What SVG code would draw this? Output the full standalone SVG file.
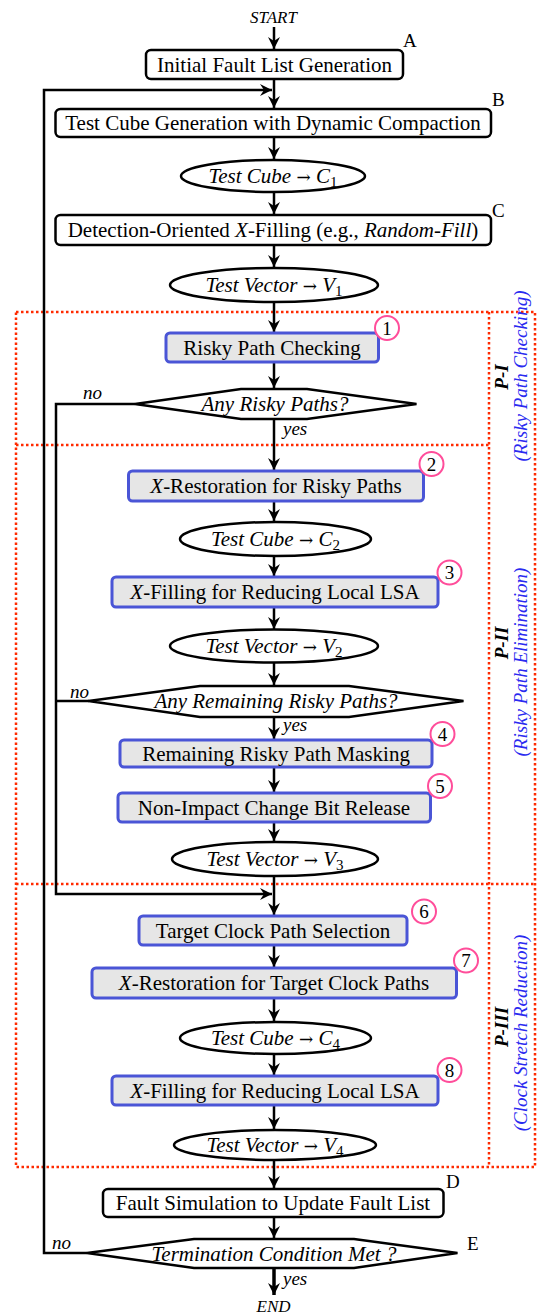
<svg xmlns="http://www.w3.org/2000/svg" width="542" height="1315" viewBox="0 0 542 1315" font-family="'Liberation Serif', 'DejaVu Serif', serif">
<defs>
<marker id="ah" markerUnits="userSpaceOnUse" markerWidth="14" markerHeight="14" viewBox="0 0 14 14" refX="13" refY="7" orient="auto">
<path d="M1,1 L13,7 L1,13 L5,7 Z" fill="#000"/>
</marker>
<style>
text{font-family:'Liberation Serif','DejaVu Serif',serif;fill:#000}
.t{font-size:21px;text-anchor:middle}
.i{font-style:italic}
.arw{font-family:'DejaVu Serif',serif;font-style:normal;font-size:17px}
.bb{fill:#fff;stroke:#000;stroke-width:2.5}
.gb{fill:#e6e6e6;stroke:#4a55d6;stroke-width:3}
.el{fill:#fff;stroke:#000;stroke-width:2.5}
.dm{fill:#fff;stroke:#000;stroke-width:2.5;stroke-linejoin:miter}
.cn{fill:none;stroke:#000;stroke-width:2.5}
.ar{marker-end:url(#ah)}
.num{fill:#fff;stroke:#ff4d9a;stroke-width:2}
.nt{font-size:19px;text-anchor:middle}
.lb{font-size:19px}
.sm{font-size:17px}
.red{fill:none;stroke:#ff2a00;stroke-width:2.5;stroke-dasharray:2.5 2.5}
.pl{font-size:19px;font-weight:bold;font-style:italic;text-anchor:middle}
.pb{font-size:19px;font-style:italic;text-anchor:middle;fill:#2a2af0}
</style>
</defs>

<g id="phases">
<rect class="red" x="16" y="312" width="519" height="855"/>
<line class="red" x1="489" y1="312" x2="489" y2="1167"/>
<line class="red" x1="16" y1="445" x2="489" y2="445"/>
<line class="red" x1="16" y1="884" x2="535" y2="884"/>
<text class="pl" transform="translate(508,377) rotate(-90)">P-I</text>
<text class="pb" transform="translate(527,376) rotate(-90)">(Risky Path Checking)</text>
<text class="pl" transform="translate(508,643) rotate(-90)">P-II</text>
<text class="pb" transform="translate(527,662) rotate(-90)">(Risky Path Elimination)</text>
<text class="pl" transform="translate(508,1027) rotate(-90)">P-III</text>
<text class="pb" transform="translate(527,1033) rotate(-90)">(Clock Stretch Reduction)</text>
</g>

<g id="connectors">
<line class="cn ar" x1="274" y1="27" x2="274" y2="49"/>
<line class="cn ar" x1="274" y1="79" x2="274" y2="108"/>
<polyline class="cn ar" points="87,1253 44,1253 44,90 272,90"/>
<line class="cn ar" x1="274" y1="137" x2="274" y2="159"/>
<line class="cn ar" x1="274" y1="192" x2="274" y2="214"/>
<line class="cn ar" x1="274" y1="245" x2="274" y2="267"/>
<line class="cn ar" x1="274" y1="302" x2="274" y2="332"/>
<line class="cn ar" x1="274" y1="362" x2="274" y2="388"/>
<line class="cn ar" x1="274" y1="419" x2="274" y2="470"/>
<polyline class="cn ar" points="135,404 56,404 56,894 272,894"/>
<line class="cn ar" x1="274" y1="501" x2="274" y2="521"/>
<line class="cn ar" x1="274" y1="556" x2="274" y2="576"/>
<line class="cn ar" x1="274" y1="607" x2="274" y2="629"/>
<line class="cn ar" x1="274" y1="663" x2="274" y2="685"/>
<line class="cn" x1="89" y1="701" x2="56" y2="701"/>
<line class="cn ar" x1="274" y1="717" x2="274" y2="739"/>
<line class="cn ar" x1="274" y1="767" x2="274" y2="792"/>
<line class="cn ar" x1="274" y1="822" x2="274" y2="841"/>
<line class="cn ar" x1="274" y1="876" x2="274" y2="915"/>
<line class="cn ar" x1="274" y1="945" x2="274" y2="967"/>
<line class="cn ar" x1="274" y1="998" x2="274" y2="1021"/>
<line class="cn ar" x1="274" y1="1054" x2="274" y2="1075"/>
<line class="cn ar" x1="274" y1="1105" x2="274" y2="1129"/>
<line class="cn ar" x1="274" y1="1160" x2="274" y2="1188"/>
<line class="cn ar" x1="274" y1="1217" x2="274" y2="1238"/>
<line class="cn ar" x1="274" y1="1268" x2="274" y2="1295" style="stroke-width:3.5"/>
<text class="lb i" x="83" y="399">no</text>
<text class="lb i" x="283" y="435">yes</text>
<text class="lb i" x="70" y="698">no</text>
<text class="lb i" x="283" y="731">yes</text>
<text class="lb i" x="52" y="1249">no</text>
<text class="lb i" x="283" y="1285">yes</text>
</g>

<g id="start"><text class="sm i" x="273.5" y="22.5" text-anchor="middle">START</text></g>
<g id="end"><text class="sm i" x="273.5" y="1312" text-anchor="middle">END</text></g>

<g id="nodeA">
<rect class="bb" x="146" y="50" width="257" height="29" rx="5"/>
<text class="t" x="274.5" y="71.5">Initial Fault List Generation</text>
<text class="lb" x="403" y="47">A</text>
</g>

<g id="nodeB">
<rect class="bb" x="55.5" y="109" width="435.5" height="28" rx="5"/>
<text class="t" x="273" y="130">Test Cube Generation with Dynamic Compaction</text>
<text class="lb" x="492" y="106">B</text>
</g>

<g id="c1">
<ellipse class="el" cx="273" cy="176" rx="92" ry="16"/>
<text class="t i" x="273" y="183">Test Cube <tspan class="arw">→</tspan> C<tspan font-style="normal" font-size="15" dy="4">1</tspan></text>
</g>

<g id="nodeC">
<rect class="bb" x="55.5" y="215" width="435.5" height="30" rx="5"/>
<text class="t" x="273" y="237">Detection-Oriented <tspan class="i">X</tspan>-Filling (e.g., <tspan class="i">Random-Fill</tspan>)</text>
<text class="lb" x="492" y="217">C</text>
</g>

<g id="v1">
<ellipse class="el" cx="274" cy="285" rx="104" ry="17"/>
<text class="t i" x="274" y="292">Test Vector <tspan class="arw">→</tspan> V<tspan font-style="normal" font-size="15" dy="4">1</tspan></text>
</g>

<g id="step1">
<rect class="gb" x="166" y="333" width="212.5" height="29" rx="4"/>
<text class="t" x="272" y="354.5">Risky Path Checking</text>
<circle class="num" cx="387" cy="328" r="12"/>
<text class="nt" x="387" y="334.5">1</text>
</g>

<g id="dec1">
<path class="dm" d="M135,404 L241,389 L307,389 L416.5,404 L307,419 L241,419 Z"/>
<text class="t i" x="275" y="411">Any Risky Paths?</text>
</g>

<g id="step2">
<rect class="gb" x="128.5" y="471" width="295" height="30" rx="4"/>
<text class="t" x="276" y="492.5"><tspan class="i">X</tspan>-Restoration for Risky Paths</text>
<circle class="num" cx="431.5" cy="464" r="12"/>
<text class="nt" x="431.5" y="470.5">2</text>
</g>

<g id="c2">
<ellipse class="el" cx="275.5" cy="539" rx="95.5" ry="17"/>
<text class="t i" x="275.5" y="546">Test Cube <tspan class="arw">→</tspan> C<tspan font-style="normal" font-size="15" dy="4">2</tspan></text>
</g>

<g id="step3">
<rect class="gb" x="112" y="577" width="326" height="30" rx="4"/>
<text class="t" x="275" y="598.5"><tspan class="i">X</tspan>-Filling for Reducing Local LSA</text>
<circle class="num" cx="449.5" cy="572.5" r="12"/>
<text class="nt" x="449.5" y="579">3</text>
</g>

<g id="v2">
<ellipse class="el" cx="274" cy="646" rx="104" ry="16.5"/>
<text class="t i" x="274" y="653">Test Vector <tspan class="arw">→</tspan> V<tspan font-style="normal" font-size="15" dy="4">2</tspan></text>
</g>

<g id="dec2">
<path class="dm" d="M88.5,701 L200,686 L349,686 L463.5,701 L349,717 L200,717 Z"/>
<text class="t i" x="276" y="708">Any Remaining Risky Paths?</text>
</g>

<g id="step4">
<rect class="gb" x="120" y="740" width="312" height="27" rx="4"/>
<text class="t" x="276" y="760.5">Remaining Risky Path Masking</text>
<circle class="num" cx="442.5" cy="734" r="12"/>
<text class="nt" x="442.5" y="740.5">4</text>
</g>

<g id="step5">
<rect class="gb" x="118" y="793" width="312.5" height="29" rx="4"/>
<text class="t" x="274" y="814.5">Non-Impact Change Bit Release</text>
<circle class="num" cx="440" cy="786" r="12"/>
<text class="nt" x="440" y="792.5">5</text>
</g>

<g id="v3">
<ellipse class="el" cx="275" cy="859" rx="103" ry="17"/>
<text class="t i" x="275" y="866">Test Vector <tspan class="arw">→</tspan> V<tspan font-style="normal" font-size="15" dy="4">3</tspan></text>
</g>

<g id="step6">
<rect class="gb" x="139" y="916" width="268" height="29" rx="4"/>
<text class="t" x="273" y="937.5">Target Clock Path Selection</text>
<circle class="num" cx="424" cy="911.5" r="12"/>
<text class="nt" x="424" y="918">6</text>
</g>

<g id="step7">
<rect class="gb" x="92" y="968" width="364.5" height="30" rx="4"/>
<text class="t" x="274" y="989.5"><tspan class="i">X</tspan>-Restoration for Target Clock Paths</text>
<circle class="num" cx="466" cy="960.5" r="12"/>
<text class="nt" x="466" y="967">7</text>
</g>

<g id="c4">
<ellipse class="el" cx="275.5" cy="1038" rx="95.5" ry="16"/>
<text class="t i" x="275.5" y="1045">Test Cube <tspan class="arw">→</tspan> C<tspan font-style="normal" font-size="15" dy="4">4</tspan></text>
</g>

<g id="step8">
<rect class="gb" x="112" y="1076" width="326" height="29" rx="4"/>
<text class="t" x="275" y="1097.5"><tspan class="i">X</tspan>-Filling for Reducing Local LSA</text>
<circle class="num" cx="449.5" cy="1070" r="12"/>
<text class="nt" x="449.5" y="1076.5">8</text>
</g>

<g id="v4">
<ellipse class="el" cx="275" cy="1145" rx="101" ry="15"/>
<text class="t i" x="275" y="1152">Test Vector <tspan class="arw">→</tspan> V<tspan font-style="normal" font-size="15" dy="4">4</tspan></text>
</g>

<g id="nodeD">
<rect class="bb" x="103" y="1189" width="340.5" height="28" rx="5"/>
<text class="t" x="273" y="1210">Fault Simulation to Update Fault List</text>
<text class="lb" x="446" y="1188">D</text>
</g>

<g id="nodeE">
<path class="dm" d="M87,1253 L194,1239 L354,1239 L457.5,1253 L354,1268 L194,1268 Z"/>
<text class="t i" x="274" y="1260.5">Termination Condition Met ?</text>
<text class="lb" x="467" y="1250">E</text>
</g>
</svg>
